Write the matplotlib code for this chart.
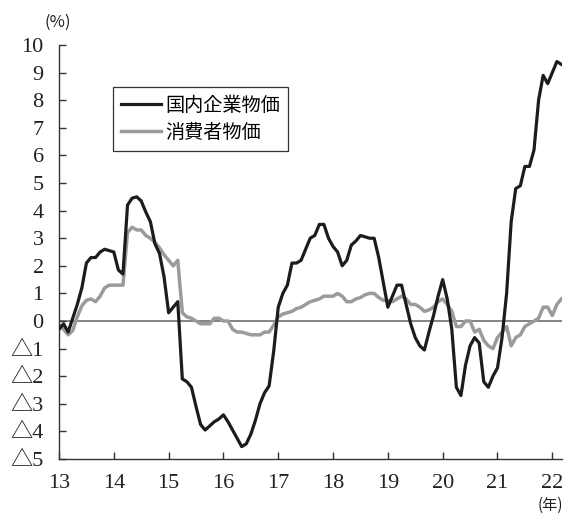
import matplotlib
matplotlib.use("Agg")
import matplotlib.pyplot as plt
import numpy as np

# 前年比（%）、2013年1月〜2022年3月の月次
cgpi = [
    -0.3, -0.1, -0.4, 0.1, 0.6, 1.2, 2.1, 2.3, 2.3, 2.5, 2.6, 2.55,
    2.5, 1.85, 1.7, 4.2, 4.45, 4.5, 4.35, 3.95, 3.6, 2.8, 2.45, 1.6,
    0.3, 0.5, 0.7, -2.1, -2.2, -2.4, -3.1, -3.75, -3.95, -3.8, -3.65, -3.55,
    -3.4, -3.65, -3.95, -4.25, -4.55, -4.45, -4.1, -3.6, -3.0, -2.6, -2.35, -1.1,
    0.5, 1.0, 1.3, 2.1, 2.1, 2.2, 2.6, 3.0, 3.1, 3.5, 3.5, 3.0,
    2.7, 2.5, 2.0, 2.2, 2.75, 2.9, 3.1, 3.05, 3.0, 3.0, 2.3, 1.4,
    0.5, 0.9, 1.3, 1.3, 0.6, -0.1, -0.6, -0.9, -1.05, -0.4, 0.2, 0.9,
    1.5, 0.8, -0.3, -2.4, -2.7, -1.6, -0.9, -0.6, -0.8, -2.2, -2.4, -2.0,
    -1.7, -0.6, 1.0, 3.6, 4.8, 4.9, 5.6, 5.6, 6.2, 8.0, 8.9, 8.6,
    9.0, 9.4, 9.3,
]
cpi = [
    -0.15, -0.3, -0.5, -0.35, 0.15, 0.55, 0.75, 0.8, 0.7, 0.9, 1.2, 1.3,
    1.3, 1.3, 1.3, 3.2, 3.4, 3.3, 3.3, 3.1, 3.0, 2.85, 2.65, 2.4,
    2.2, 2.0, 2.2, 0.3, 0.15, 0.1, 0.0, -0.1, -0.1, -0.1, 0.1, 0.1,
    0.0, 0.0, -0.3, -0.4, -0.4, -0.45, -0.5, -0.5, -0.5, -0.4, -0.4, -0.15,
    0.15, 0.25, 0.3, 0.35, 0.45, 0.5, 0.6, 0.7, 0.75, 0.8, 0.9, 0.9,
    0.9, 1.0, 0.9, 0.7, 0.7, 0.8, 0.85, 0.95, 1.0, 1.0, 0.85, 0.75,
    0.75, 0.7, 0.8, 0.9, 0.8, 0.6, 0.6, 0.5, 0.35, 0.4, 0.5, 0.7,
    0.8, 0.6, 0.35, -0.2, -0.2, 0.0, 0.0, -0.4, -0.3, -0.7, -0.9, -1.0,
    -0.6, -0.4, -0.2, -0.9, -0.6, -0.5, -0.2, -0.1, 0.0, 0.1, 0.5, 0.5,
    0.2, 0.6, 0.8,
]
series_names = ["国内企業物価", "消費者物価"]
x_years = [13, 14, 15, 16, 17, 18, 19, 20, 21, 22]
y_ticks = list(range(-5, 11))
y_labels = ["△5", "△4", "△3", "△2", "△1", "0", "1", "2", "3", "4",
            "5", "6", "7", "8", "9", "10"]

serif = ["Liberation Serif", "Noto Sans CJK JP"]
jp = ["Noto Sans CJK JP", "DejaVu Sans"]

t = 13 + np.arange(len(cgpi)) / 12.0

fig = plt.figure(figsize=(5.69, 5.15), dpi=100)
ax = fig.add_axes([0.1037, 0.1087, 0.8833, 0.8039])

ax.axhline(0, color="#7a7a7a", lw=1.3, zorder=1)
ax.plot(t, cpi, color="#9b9b9b", lw=2.5, label=series_names[1], zorder=2)
ax.plot(t, cgpi, color="#1c1c1c", lw=2.3, label=series_names[0], zorder=3)

ax.set_xlim(13, 22.17)
ax.set_ylim(-5, 10)
ax.set_xticks(x_years)
ax.set_xticklabels([str(v) for v in x_years], family=serif, fontsize=16,
                   color="#222222")
ax.set_yticks(y_ticks)
ax.set_yticklabels(y_labels, family=serif, fontsize=16, color="#222222")

for s in ["top", "right"]:
    ax.spines[s].set_visible(False)
for s in ["left", "bottom"]:
    ax.spines[s].set_color("#333333")
    ax.spines[s].set_linewidth(1.0)

ax.tick_params(direction="in", length=5, width=1.0, color="#333333")
ax.tick_params(axis="y", pad=11)
ax.tick_params(axis="x", pad=11)

handles, labels = ax.get_legend_handles_labels()
leg = ax.legend(handles[::-1], labels[::-1], loc="upper left",
                bbox_to_anchor=(0.107, 0.899), borderaxespad=0,
                prop={"family": jp, "size": 13.8}, fancybox=False,
                edgecolor="#333333", framealpha=1, handlelength=2.1,
                handletextpad=0.2, labelspacing=0.32, borderpad=0.42)
leg.get_frame().set_linewidth(0.9)

fig.text(0.101, 0.957, "(%)", family=jp, fontsize=12, ha="center",
         va="center", color="#222222")
fig.text(0.968, 0.010, "(年)", family=jp, fontsize=11, ha="center",
         va="baseline", color="#222222")

fig.savefig("out.png", dpi=100)
